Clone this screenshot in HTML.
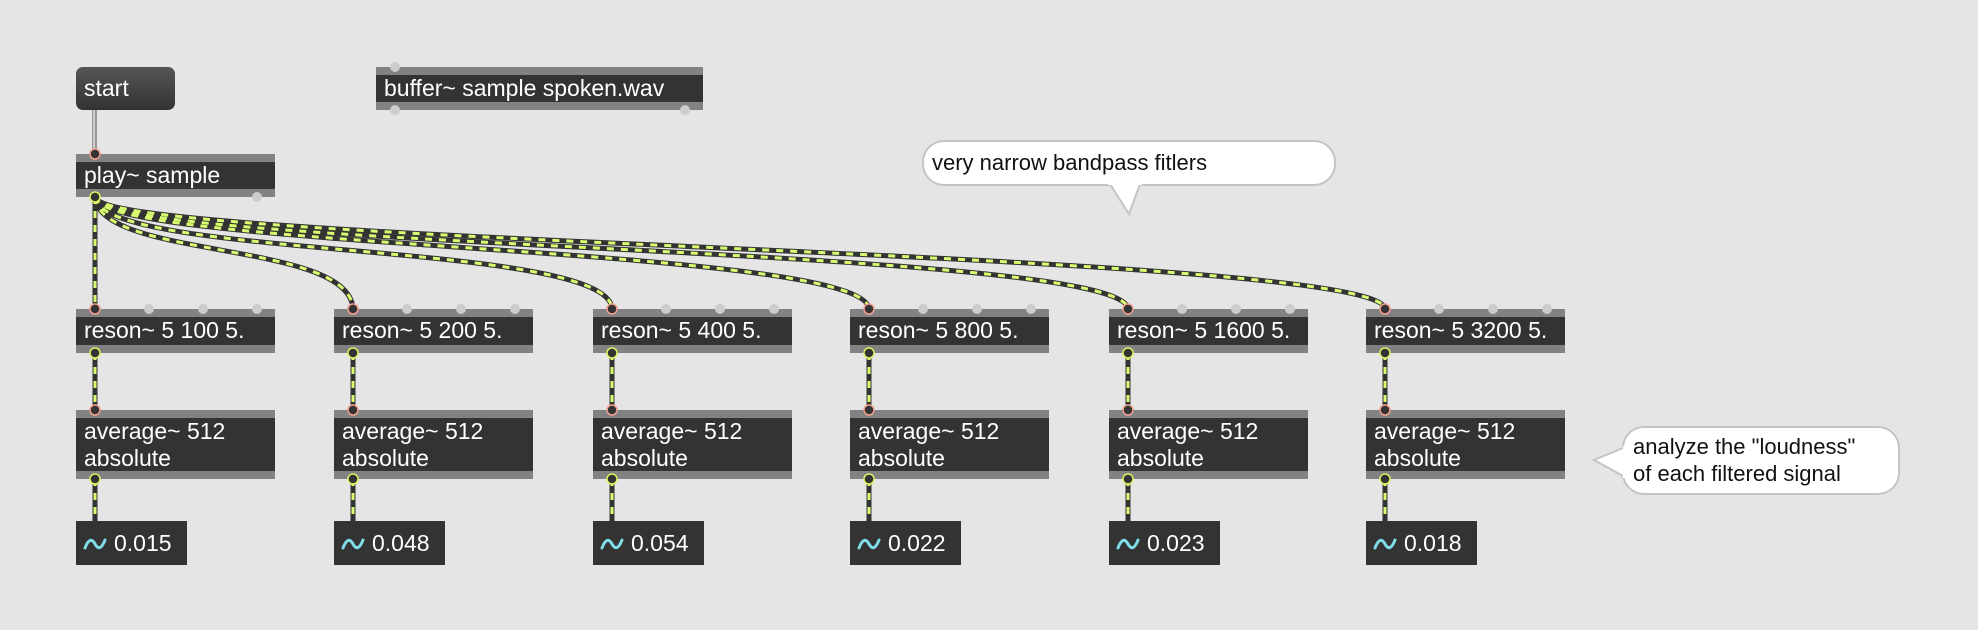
<!DOCTYPE html>
<html><head><style>
body{margin:0;width:1978px;height:630px;background:#e5e5e5;position:relative;overflow:hidden;font-family:"Liberation Sans",Arial,sans-serif;}
.o{position:absolute;background:#333;border-top:8px solid #828282;border-bottom:8px solid #828282;box-sizing:border-box;color:#fff;font-size:23px;padding-left:8px;line-height:27px;}
.n{position:absolute;background:#333;color:#fff;font-size:23px;box-sizing:border-box;padding-left:38px;line-height:44px;}
.c{position:absolute;background:#fff;border:2px solid #c4c4c4;border-radius:22px;box-sizing:border-box;font-size:22px;color:#111;}
svg{position:absolute;left:0;top:0}
</style></head><body>
<div style="position:absolute;left:76px;top:67px;width:99px;height:43px;border-radius:7px;background:linear-gradient(#555,#333);color:#fff;font-size:23px;line-height:43px;padding-left:8px;box-sizing:border-box">start</div>
<div class="o" style="left:376px;top:67px;width:327px;height:43px">buffer~ sample spoken.wav</div>
<div class="o" style="left:76px;top:154px;width:199px;height:43px">play~ sample</div>

<div class="o" style="left:76px;top:309px;width:199px;height:44px">reson~ 5 100 5.</div>
<div class="o" style="left:334px;top:309px;width:199px;height:44px">reson~ 5 200 5.</div>
<div class="o" style="left:593px;top:309px;width:199px;height:44px">reson~ 5 400 5.</div>
<div class="o" style="left:850px;top:309px;width:199px;height:44px">reson~ 5 800 5.</div>
<div class="o" style="left:1109px;top:309px;width:199px;height:44px">reson~ 5 1600 5.</div>
<div class="o" style="left:1366px;top:309px;width:199px;height:44px">reson~ 5 3200 5.</div>

<div class="o" style="left:76px;top:410px;width:199px;height:69px">average~ 512<br>absolute</div>
<div class="o" style="left:334px;top:410px;width:199px;height:69px">average~ 512<br>absolute</div>
<div class="o" style="left:593px;top:410px;width:199px;height:69px">average~ 512<br>absolute</div>
<div class="o" style="left:850px;top:410px;width:199px;height:69px">average~ 512<br>absolute</div>
<div class="o" style="left:1109px;top:410px;width:199px;height:69px">average~ 512<br>absolute</div>
<div class="o" style="left:1366px;top:410px;width:199px;height:69px">average~ 512<br>absolute</div>

<div class="n" style="left:76px;top:521px;width:111px;height:44px">0.015</div>
<div class="n" style="left:334px;top:521px;width:111px;height:44px">0.048</div>
<div class="n" style="left:593px;top:521px;width:111px;height:44px">0.054</div>
<div class="n" style="left:850px;top:521px;width:111px;height:44px">0.022</div>
<div class="n" style="left:1109px;top:521px;width:111px;height:44px">0.023</div>
<div class="n" style="left:1366px;top:521px;width:111px;height:44px">0.018</div>

<div class="c" style="left:922px;top:140px;width:414px;height:46px;padding:8px 0 0 8px">very narrow bandpass fitlers</div>
<div class="c" style="left:1622px;top:426px;width:278px;height:69px;padding:5px 0 0 9px;line-height:27px">analyze the "loudness"<br>of each filtered signal</div>

<svg width="1978" height="630">
<g fill="#fff" stroke="#c4c4c4" stroke-width="2">
<path d="M1110 184 L1129 214 L1140 184"/>
<path d="M1623 448 L1594 460 L1623 476"/>
</g>
<g fill="#fff" stroke="none"><rect x="1108" y="180" width="34" height="5"/><rect x="1623" y="446" width="5" height="32"/></g>
<rect x="92" y="110" width="5" height="44" fill="#999"/><rect x="93" y="110" width="2" height="44" fill="#ccc"/>
<g fill="none" stroke-linecap="butt">
<g stroke="#333" stroke-width="5">
<path d="M95 197 L95 309"/>
<path d="M95 197 C100 260 350 240 353 309"/>
<path d="M95 197 C100 260 610 240 612 309"/>
<path d="M95 197 C100 250 866 245 869 309"/>
<path d="M95 197 C100 250 1125 245 1128 309"/>
<path d="M95 197 C100 245 1383 250 1385 309"/>
</g>
<g stroke="#d8fc70" stroke-width="3" stroke-dasharray="7 7">
<path d="M95 197 L95 309"/>
<path d="M95 197 C100 260 350 240 353 309"/>
<path d="M95 197 C100 260 610 240 612 309"/>
<path d="M95 197 C100 250 866 245 869 309"/>
<path d="M95 197 C100 250 1125 245 1128 309"/>
<path d="M95 197 C100 245 1383 250 1385 309"/>
</g>
<g stroke="#333" stroke-width="5">
<path d="M95 353V410M95 479V521M353 353V410M353 479V521M612 353V410M612 479V521M869 353V410M869 479V521M1128 353V410M1128 479V521M1385 353V410M1385 479V521"/>
</g>
<g stroke="#d8fc70" stroke-width="3" stroke-dasharray="7 7">
<path d="M95 353V410M95 479V521M353 353V410M353 479V521M612 353V410M612 479V521M869 353V410M869 479V521M1128 353V410M1128 479V521M1385 353V410M1385 479V521"/>
</g>
</g>
<g fill="#ccc">
<circle cx="395" cy="67" r="5"/><circle cx="395" cy="110" r="5"/><circle cx="685" cy="110" r="5"/>
<circle cx="257" cy="197" r="5"/>
</g>
<g fill="#ccc">
<circle cx="149" cy="309" r="5"/><circle cx="203" cy="309" r="5"/><circle cx="257" cy="309" r="5"/>
<circle cx="407" cy="309" r="5"/><circle cx="461" cy="309" r="5"/><circle cx="515" cy="309" r="5"/>
<circle cx="666" cy="309" r="5"/><circle cx="720" cy="309" r="5"/><circle cx="774" cy="309" r="5"/>
<circle cx="923" cy="309" r="5"/><circle cx="977" cy="309" r="5"/><circle cx="1031" cy="309" r="5"/>
<circle cx="1182" cy="309" r="5"/><circle cx="1236" cy="309" r="5"/><circle cx="1290" cy="309" r="5"/>
<circle cx="1439" cy="309" r="5"/><circle cx="1493" cy="309" r="5"/><circle cx="1547" cy="309" r="5"/>
</g>
<g fill="#333" stroke="#f4a090" stroke-width="1.5">
<circle cx="95" cy="154" r="5"/>
<circle cx="95" cy="309" r="5"/><circle cx="353" cy="309" r="5"/><circle cx="612" cy="309" r="5"/><circle cx="869" cy="309" r="5"/><circle cx="1128" cy="309" r="5"/><circle cx="1385" cy="309" r="5"/>
<circle cx="95" cy="410" r="5"/><circle cx="353" cy="410" r="5"/><circle cx="612" cy="410" r="5"/><circle cx="869" cy="410" r="5"/><circle cx="1128" cy="410" r="5"/><circle cx="1385" cy="410" r="5"/>
</g>
<g fill="#333" stroke="#e0f060" stroke-width="1.5">
<circle cx="95" cy="197" r="5"/>
<circle cx="95" cy="353" r="5"/><circle cx="353" cy="353" r="5"/><circle cx="612" cy="353" r="5"/><circle cx="869" cy="353" r="5"/><circle cx="1128" cy="353" r="5"/><circle cx="1385" cy="353" r="5"/>
<circle cx="95" cy="479" r="5"/><circle cx="353" cy="479" r="5"/><circle cx="612" cy="479" r="5"/><circle cx="869" cy="479" r="5"/><circle cx="1128" cy="479" r="5"/><circle cx="1385" cy="479" r="5"/>
</g>
<g fill="none" stroke="#7fdde8" stroke-width="3" stroke-linecap="round">
<path d="M85 548 Q90 535 95 544 Q100 553 105 540"/>
<path d="M343 548 Q348 535 353 544 Q358 553 363 540"/>
<path d="M602 548 Q607 535 612 544 Q617 553 622 540"/>
<path d="M859 548 Q864 535 869 544 Q874 553 879 540"/>
<path d="M1118 548 Q1123 535 1128 544 Q1133 553 1138 540"/>
<path d="M1375 548 Q1380 535 1385 544 Q1390 553 1395 540"/>
</g>
</svg>
</body></html>
